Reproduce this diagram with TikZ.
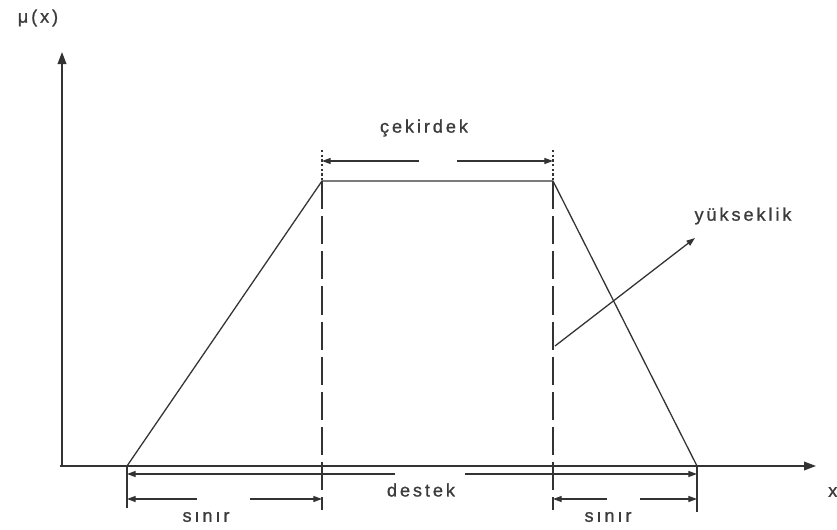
\documentclass[tikz,border=0pt]{standalone}
\usepackage{fontspec}
\newfontfamily\lblfont[LetterSpace=16,FakeBold=1]{Liberation Sans}
\usepackage{xcolor}
\definecolor{cLine}{HTML}{333333}
\definecolor{cText}{HTML}{3C3C3C}
\usetikzlibrary{arrows.meta,positioning}
\tikzset{
  axis/.style={-{Triangle[length=3.6mm,width=2.6mm]},draw=cLine,line width=1.3pt},
  curve/.style={draw=cLine,line width=1.1pt},
  guide/.style={draw=cLine,line width=1.1pt,dash pattern=on 24pt off 6pt},
  guide-top/.style={draw=cLine,line width=1pt,dash pattern=on 2pt off 2pt},
  dimarrow/.style={-{Triangle[length=2.6mm,width=1.8mm]},draw=cLine,line width=1.1pt},
  tick/.style={draw=cLine,line width=1.1pt},
  lbl/.style={font=\lblfont\fontsize{15.5}{18}\selectfont,text=cText,inner sep=0pt},
}
\begin{document}
\begin{tikzpicture}[x=0.03cm,y=-0.03cm]
  \useasboundingbox (0,0) rectangle (837,529);
  % axes
  \coordinate (o)  at (62,466);
  \coordinate (xl) at (60,466);
  \coordinate (xe) at (816,466);
  \coordinate (ye) at (62,52);
  \draw[axis] (xl) -- (xe);
  \draw[axis] (o) -- (ye);
  \node[lbl] (mu) at (38,18) {μ(x)};
  \node[lbl,anchor=west] (xlab) at (828,492) {x};
  % trapezoid
  \coordinate (a) at (127,466);
  \coordinate (b) at (322,181);
  \coordinate (c) at (553,181);
  \coordinate (d) at (697,466);
  \draw[curve] (a) -- (b) -- (c) -- (d);
  % guide lines
  \coordinate (bt) at (322,150);
  \coordinate (bb) at (322,510);
  \coordinate (ct) at (553,150);
  \coordinate (cb) at (553,510);
  \coordinate (at) at (127,508);
  \coordinate (dt) at (697,512);
  \draw[guide-top] (bt) -- (b);
  \draw[guide-top] (ct) -- (c);
  \draw[guide] (b) -- (bb);
  \draw[guide] (c) -- (cb);
  \draw[tick] (a) -- (at);
  \draw[tick] (d) -- (dt);
  % cekirdek
  \coordinate (ck-l) at (322,161);
  \coordinate (ck-r) at (553,161);
  \coordinate (ck-gl) at (419,161);
  \coordinate (ck-gr) at (457,161);
  \draw[dimarrow] (ck-gl) -- (ck-l);
  \draw[dimarrow] (ck-gr) -- (ck-r);
  \node[lbl] (cek) at (424,128) {çekirdek};
  % destek
  \coordinate (ds-l) at (127,474);
  \coordinate (ds-r) at (697,474);
  \coordinate (ds-gl) at (395,474);
  \coordinate (ds-gr) at (465,474);
  \draw[dimarrow] (ds-gl) -- (ds-l);
  \draw[dimarrow] (ds-gr) -- (ds-r);
  \node[lbl] (des) at (421,490) {destek};
  % sinir (left)
  \coordinate (sl-l) at (127,499);
  \coordinate (sl-r) at (322,499);
  \coordinate (sl-gl) at (197,499);
  \coordinate (sl-gr) at (250,499);
  \draw[dimarrow] (sl-gl) -- (sl-l);
  \draw[dimarrow] (sl-gr) -- (sl-r);
  \node[lbl] (sin1) at (206,517) {sınır};
  % sinir (right)
  \coordinate (sr-l) at (553,499);
  \coordinate (sr-r) at (697,499);
  \coordinate (sr-gl) at (607,499);
  \coordinate (sr-gr) at (640,499);
  \draw[dimarrow] (sr-gl) -- (sr-l);
  \draw[dimarrow] (sr-gr) -- (sr-r);
  \node[lbl] (sin2) at (608,517) {sınır};
  % yukseklik
  \coordinate (yk-s) at (555,346);
  \coordinate (yk-e) at (695,238);
  \draw[dimarrow] (yk-s) -- (yk-e);
  \node[lbl] (yuk) at (743,216) {yükseklik};
\end{tikzpicture}
\end{document}
